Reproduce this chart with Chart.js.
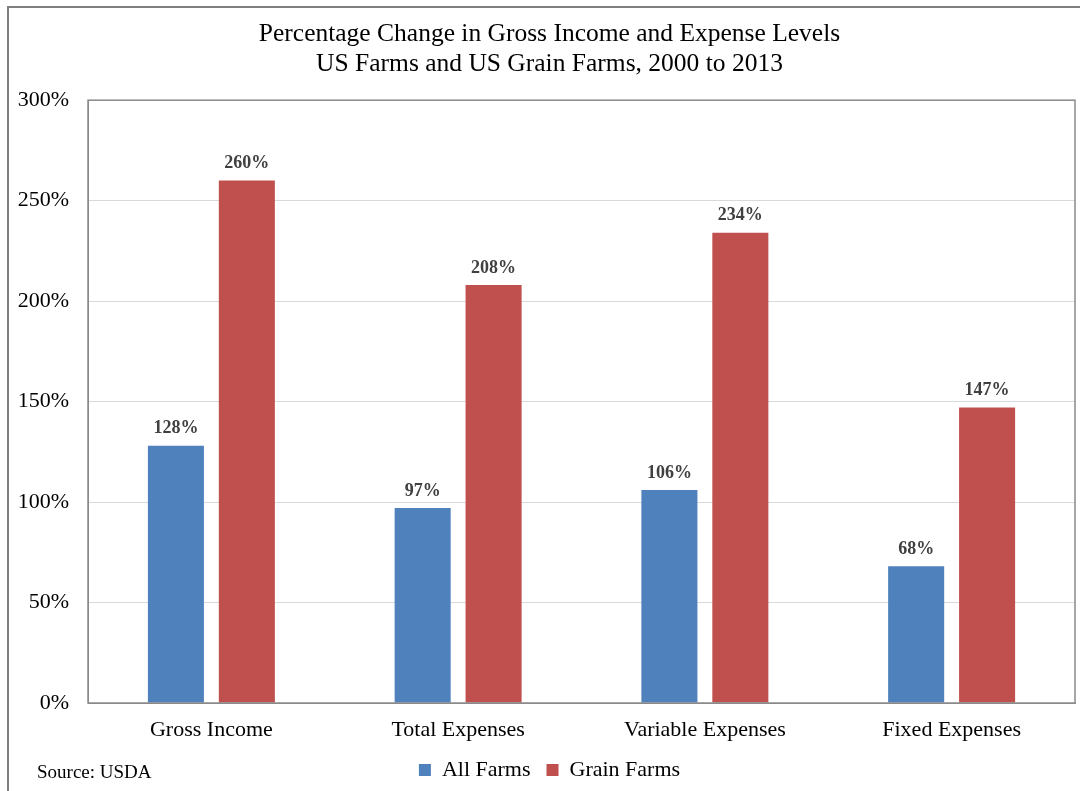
<!DOCTYPE html>
<html>
<head>
<meta charset="utf-8">
<script src="https://cdn.jsdelivr.net/npm/chart.js@4.4.1/dist/chart.umd.min.js"></script>
<style>
    html, body { margin: 0; padding: 0; background: #fff; }
    #wrap { width: 1080px; height: 791px; position: relative; }
</style>
</head>
<body>
<div id="wrap"><canvas id="farmChart"></canvas></div>
<script>
// Chart data
const categories = ['Gross Income', 'Total Expenses', 'Variable Expenses', 'Fixed Expenses'];
const allFarms = [128, 97, 106, 68];
const grainFarms = [260, 208, 234, 147];
const yTicks = [0, 50, 100, 150, 200, 250, 300];

const SERIF = '"Liberation Serif", "Times New Roman", serif';

// Draws the "128%" style labels above each bar
const barLabels = {
    id: 'barLabels',
    afterDatasetsDraw(chart) {
        const ctx = chart.ctx;
        ctx.save();
        ctx.font = 'bold 18px ' + SERIF;
        ctx.fillStyle = '#404040';
        ctx.textAlign = 'center';
        ctx.textBaseline = 'middle';
        chart.data.datasets.forEach((ds, i) => {
            chart.getDatasetMeta(i).data.forEach((bar, j) => {
                ctx.fillText(ds.data[j] + '%', bar.x, bar.y - 17);
            });
        });
        ctx.restore();
    }
};

// Title and legend sit a bit right of the canvas centre in the original
const nudge = {
    id: 'nudge',
    afterLayout(chart) {
        [chart.titleBlock, chart.legend].forEach(box => {
            if (!box) return;
            box.left += 12;
            box.right += 12;
        });
    }
};

// Plot box, outer frame and source note
const frame = {
    id: 'frame',
    afterDraw(chart) {
        const ctx = chart.ctx;
        const a = chart.chartArea;
        ctx.save();
        ctx.strokeStyle = '#8a8a8a';
        ctx.lineWidth = 1.5;
        ctx.strokeRect(a.left, a.top, a.right - a.left, a.bottom - a.top);

        ctx.strokeStyle = '#7f7f7f';
        ctx.lineWidth = 2;
        ctx.beginPath();
        ctx.moveTo(8, chart.height);
        ctx.lineTo(8, 7);
        ctx.lineTo(chart.width, 7);
        ctx.stroke();

        ctx.font = '19px ' + SERIF;
        ctx.fillStyle = '#000';
        ctx.textAlign = 'left';
        ctx.textBaseline = 'middle';
        ctx.fillText('Source: USDA', 37, 773);
        ctx.restore();
    }
};

new Chart(document.getElementById('farmChart'), {
    type: 'bar',
    data: {
        labels: categories,
        datasets: [{
            label: 'All Farms',
            data: allFarms,
            backgroundColor: '#4F81BD',
            barPercentage: 0.79,
            categoryPercentage: 0.575
        }, {
            label: 'Grain Farms',
            data: grainFarms,
            backgroundColor: '#C0504D',
            barPercentage: 0.79,
            categoryPercentage: 0.575
        }]
    },
    options: {
        responsive: true,
        maintainAspectRatio: false,
        animation: false,
        layout: { padding: { left: 0, right: 5, top: 0, bottom: 0 } },
        scales: {
            x: {
                grid: { display: false, drawTicks: false },
                border: { color: '#8a8a8a' },
                ticks: { color: '#000', padding: 14, font: { family: SERIF, size: 22 } },
                afterFit(scale) { scale.height = 40; }
            },
            y: {
                min: 0,
                max: 300,
                afterBuildTicks(scale) { scale.ticks = yTicks.map(v => ({ value: v })); },
                grid: { color: '#d9d9d9', drawTicks: false },
                border: { color: '#8a8a8a' },
                ticks: {
                    color: '#000',
                    padding: 19,
                    font: { family: SERIF, size: 22 },
                    callback: v => v + '%'
                },
                afterFit(scale) { scale.width = 88; }
            }
        },
        plugins: {
            title: {
                display: true,
                text: ['Percentage Change in Gross Income and Expense Levels', 'US Farms and US Grain Farms, 2000 to 2013'],
                color: '#000',
                font: { family: SERIF, size: 25.5, weight: 'normal', lineHeight: 1.18 },
                padding: { top: 19, bottom: 21 }
            },
            legend: {
                position: 'bottom',
                labels: {
                    color: '#000',
                    boxWidth: 12,
                    boxHeight: 12,
                    padding: 16,
                    font: { family: SERIF, size: 22 }
                }
            },
            tooltip: { enabled: false }
        }
    },
    plugins: [barLabels, nudge, frame]
});
</script>
</body>
</html>
